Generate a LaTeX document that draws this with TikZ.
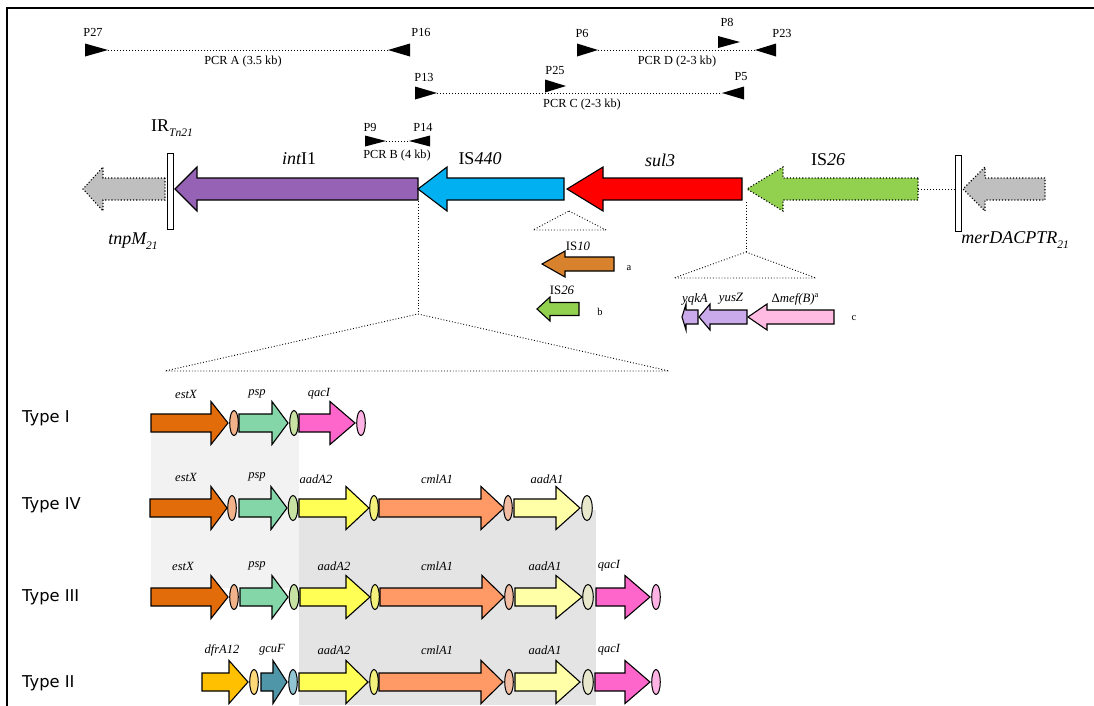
\documentclass[tikz,border=0pt]{standalone}
\usepackage{fontspec}
\setmainfont{Liberation Serif}
\newfontfamily\typefont{DejaVu Sans}
\definecolor{cGray}{HTML}{BFBFBF}
\definecolor{cInt}{HTML}{9562B5}
\definecolor{cIS440}{HTML}{00B0F0}
\definecolor{cSul}{HTML}{FF0000}
\definecolor{cIS26}{HTML}{92D050}
\definecolor{cIS10}{HTML}{D8822E}
\definecolor{cYus}{HTML}{CAAAEA}
\definecolor{cMef}{HTML}{FFBBE2}
\definecolor{cEst}{HTML}{E36C0A}
\definecolor{cEstO}{HTML}{F2B38A}
\definecolor{cPsp}{HTML}{84D6A8}
\definecolor{cPspO}{HTML}{C8E2A4}
\definecolor{cQac}{HTML}{FF66CC}
\definecolor{cQacO}{HTML}{FFB3E4}
\definecolor{cAadT}{HTML}{FFFF55}
\definecolor{cAadTO}{HTML}{F4F07C}
\definecolor{cCml}{HTML}{FF9966}
\definecolor{cCmlO}{HTML}{F2BCA2}
\definecolor{cAadO}{HTML}{FFFFA8}
\definecolor{cAadOO}{HTML}{E8E8CC}
\definecolor{cDfr}{HTML}{FFC000}
\definecolor{cDfrO}{HTML}{FFD878}
\definecolor{cGcu}{HTML}{4F97A8}
\definecolor{cGcuO}{HTML}{92C5D3}
\definecolor{shadeA}{HTML}{F2F2F2}
\definecolor{shadeB}{HTML}{E4E4E4}
% gene arrow: style, tail x, head-base x, tip x, y, body half, head half
\newcommand{\GeneArr}[7]{\draw[#1] (#2,#5-#6) -- (#3,#5-#6) -- (#3,#5-#7) -- (#4,#5) -- (#3,#5+#7) -- (#3,#5+#6) -- (#2,#5+#6) -- cycle;}
% primer triangle: base x, tip x, y, half height
\newcommand{\PrimTri}[4]{\fill (#1,#3-#4) -- (#2,#3) -- (#1,#3+#4) -- cycle;}
% cassette gene: colour, tail, head base, tip, y
\newcommand{\Cas}[5]{\GeneArr{gene,fill=#1}{#2}{#3}{#4}{#5}{9}{21.5}}
% oval: colour, x, y, half width
\newcommand{\Ov}[4]{\draw[oval,fill=#1] (#2,#3) ellipse ({#4} and 12.5);}
\newcommand{\SubT}[1]{\raisebox{-0.25em}{\fontsize{11.5}{12}\selectfont #1}}
\begin{document}
\begin{tikzpicture}[x=1pt,y=-1pt,
  gene/.style={draw=black,line width=1.1pt,line join=miter},
  dotgene/.style={draw=black,dotted,line width=1.1pt},
  pline/.style={dotted,line width=1pt},
  ins/.style={dotted,line width=0.9pt},
  oval/.style={draw=black,line width=1pt},
  small/.style={font=\fontsize{12.3}{14}\selectfont,inner sep=0pt},
  big/.style={font=\fontsize{18}{20}\selectfont,inner sep=0pt},
  mid/.style={font=\fontsize{12.8}{14}\selectfont,inner sep=0pt},
  tiny/.style={font=\fontsize{10.5}{12}\selectfont,inner sep=0pt},
  cas/.style={font=\fontsize{12.5}{14}\selectfont\itshape,inner sep=0pt},
  typel/.style={font=\typefont\fontsize{16.3}{18}\selectfont,anchor=west,inner sep=0pt}]
\useasboundingbox (0,0) rectangle (1094,705);
\fill[white] (0,0) rectangle (1094,705);
% shaded regions
\fill[shadeA] (151,430) rectangle (299,588);
\fill[shadeB] (299,510) rectangle (596,705);
% frame
\draw[line width=2.2pt] (7,706) -- (7,8) -- (1094,8);

% ---------- primers ----------
\PrimTri{85}{108}{50}{6.5}
\PrimTri{410}{388}{50}{6.5}
\coordinate (a1) at (108,50); \coordinate (a2) at (388,50);
\draw[pline] (a1) -- (a2);
\node[small] (lP27) at (93,32) {P27};
\node[small] (lP16) at (421,32) {P16};
\node[small] (lA) at (243,62) {PCR A (3.5 kb)};

\PrimTri{577}{598}{50}{6.5}
\PrimTri{718}{740}{42}{6}
\PrimTri{776}{755}{50}{6.5}
\coordinate (d1) at (598,50); \coordinate (d2) at (755,50);
\draw[pline] (d1) -- (d2);
\node[small] (lP6) at (582,33) {P6};
\node[small] (lP8) at (727,22) {P8};
\node[small] (lP23) at (782,33) {P23};
\node[small] (lD) at (677,62) {PCR D (2-3 kb)};

\PrimTri{415}{437}{93}{6.5}
\PrimTri{545}{566}{86}{6.5}
\PrimTri{744}{722}{93}{6.5}
\coordinate (c1) at (437,93); \coordinate (c2) at (722,93);
\draw[pline] (c1) -- (c2);
\node[small] (lP13) at (424,77) {P13};
\node[small] (lP25) at (555,70) {P25};
\node[small] (lP5) at (741,77) {P5};
\node[small] (lC) at (582,105) {PCR C (2-3 kb)};

\PrimTri{365}{386}{141}{5.5}
\PrimTri{430}{409}{141}{5.5}
\coordinate (b1) at (386,141); \coordinate (b2) at (409,141);
\draw[pline] (b1) -- (b2);
\node[small] (lP9) at (370,127) {P9};
\node[small] (lP14) at (423,127) {P14};
\node[small] (lB) at (397,156) {PCR B (4 kb)};

% ---------- main map ----------
\GeneArr{dotgene,fill=cGray}{165}{103}{83}{189}{11}{22}
\draw[gene,line width=1pt,fill=white] (167,153) rectangle (173,229);
\GeneArr{gene,fill=cInt}{418}{197}{175}{189}{11}{22}
\GeneArr{gene,fill=cIS440}{564}{447}{418}{189}{11}{22}
\GeneArr{gene,fill=cSul}{742}{603}{567}{189}{11}{22}
\GeneArr{dotgene,fill=cIS26}{918}{783}{747}{189}{11}{22}
\coordinate (g1) at (918,189); \coordinate (g2) at (956,189);
\draw[pline] (g1) -- (g2);
\draw[gene,line width=1pt,fill=white] (955,155) rectangle (961,231);
\GeneArr{dotgene,fill=cGray}{1045}{985}{963}{189}{11}{22}

\node[big] (lIR) at (172,128) {IR\SubT{\itshape Tn21}};
\node[big] (lint) at (299,159) {{\itshape int}I1};
\node[big] (lIS440) at (480,159) {IS{\itshape 440}};
\node[big] (lsul) at (660,160) {\itshape sul3};
\node[big] (lIS26) at (828,160) {IS{\itshape 26}};
\node[big] (ltnp) at (133,241) {{\itshape tnpM}\SubT{\itshape 21}};
\node[big] (lmer) at (1015,240) {{\itshape merDACPTR}\SubT{\itshape 21}};

% ---------- insertion a / b ----------
\draw[ins] (569,211) -- (606,230) -- (533,230) -- cycle;
\GeneArr{gene,fill=cIS10}{614}{565}{542}{264}{7}{13}
\node[mid] (lIS10) at (578,246) {IS{\itshape 10}};
\node[tiny] (la) at (629,268) {a};
\GeneArr{gene,fill=cIS26}{579}{550}{537}{309}{6.5}{12}
\node[mid] (lIS26b) at (562,290) {IS{\itshape 26}};
\node[tiny] (lb) at (600,312) {b};

% ---------- insertion c ----------
\coordinate (cv1) at (746,202); \coordinate (cv2) at (746,252);
\draw[ins] (cv1) -- (cv2);
\draw[ins] (cv2) -- (816,278) -- (674,278) -- cycle;
\GeneArr{gene,fill=cMef}{834}{767}{748}{317}{7}{13}
\GeneArr{gene,fill=cYus}{747}{710}{699}{317}{7}{13}
\GeneArr{gene,fill=cYus}{698}{686}{682}{317}{7}{13}
\node[mid,font=\fontsize{12.8}{14}\selectfont\itshape] (lyqk) at (695,299) {yqkA};
\node[mid,font=\fontsize{12.8}{14}\selectfont\itshape] (lyus) at (731,299) {yusZ};
\node[mid] (lmef) at (795,299) {Δ{\itshape mef(B)}\raisebox{0.35em}{\fontsize{8.5}{9}\selectfont a}};
\node[tiny] (lc) at (854,318) {c};

% ---------- integron expansion ----------
\coordinate (iv1) at (418,201); \coordinate (iv2) at (418,314);
\draw[ins] (iv1) -- (iv2);
\draw[ins] (iv2) -- (669,371) -- (165,371) -- cycle;

% ---------- Type I ----------
\node[typel] (tI) at (22,418) {Type I};
\Cas{cEst}{151}{211}{228}{423} \Ov{cEstO}{234}{423}{4.3}
\Cas{cPsp}{239}{272}{288}{423} \Ov{cPspO}{294}{423}{4.3}
\Cas{cQac}{299}{330}{355}{423} \Ov{cQacO}{361}{423}{4.3}
\node[cas] at (186,394) {estX};
\node[cas] at (257,394) {psp};
\node[cas] at (319,394) {qacI};

% ---------- Type IV ----------
\node[typel] (tIV) at (22,505) {Type IV};
\Cas{cEst}{150}{211}{227}{508} \Ov{cEstO}{232}{508}{4.3}
\Cas{cPsp}{239}{271}{287}{508} \Ov{cPspO}{293}{508}{4.8}
\Cas{cAadT}{299}{346}{369}{508} \Ov{cAadTO}{374}{508}{4.3}
\Cas{cCml}{379}{481}{504}{508} \Ov{cCmlO}{508}{508}{4.3}
\Cas{cAadO}{514}{556}{580}{508} \Ov{cAadOO}{587}{508}{5.3}
\node[cas] at (186,477) {estX};
\node[cas] at (257,477) {psp};
\node[cas] at (316,479) {aadA2};
\node[cas] at (437,479) {cmlA1};
\node[cas] at (547,479) {aadA1};

% ---------- Type III ----------
\node[typel] (tIII) at (22,597) {Type III};
\Cas{cEst}{151}{211}{228}{597} \Ov{cEstO}{234}{597}{4.3}
\Cas{cPsp}{240}{272}{288}{597} \Ov{cPspO}{294}{597}{4.8}
\Cas{cAadT}{300}{346}{370}{597} \Ov{cAadTO}{375}{597}{4.3}
\Cas{cCml}{380}{482}{504}{597} \Ov{cCmlO}{509}{597}{4.3}
\Cas{cAadO}{515}{556}{582}{597} \Ov{cAadOO}{588}{597}{5.3}
\Cas{cQac}{596}{625}{650}{597} \Ov{cQacO}{656}{597}{4.3}
\node[cas] at (183,566) {estX};
\node[cas] at (257,566) {psp};
\node[cas] at (334,566) {aadA2};
\node[cas] at (437,566) {cmlA1};
\node[cas] at (545,566) {aadA1};
\node[cas] at (609,566) {qacI};

% ---------- Type II ----------
\node[typel] (tII) at (22,683) {Type II};
\Cas{cDfr}{202}{229}{248}{682} \Ov{cDfrO}{254}{682}{4.3}
\Cas{cGcu}{261}{273}{287}{682} \Ov{cGcuO}{293}{682}{4.3}
\Cas{cAadT}{299}{346}{368}{682} \Ov{cAadTO}{374}{682}{4.3}
\Cas{cCml}{379}{481}{503}{682} \Ov{cCmlO}{509}{682}{4.3}
\Cas{cAadO}{515}{556}{580}{682} \Ov{cAadOO}{588}{682}{5.3}
\Cas{cQac}{595}{625}{650}{682} \Ov{cQacO}{656}{682}{4.3}
\node[cas] at (222,650) {dfrA12};
\node[cas] at (272,650) {gcuF};
\node[cas] at (334,650) {aadA2};
\node[cas] at (437,650) {cmlA1};
\node[cas] at (545,650) {aadA1};
\node[cas] at (609,650) {qacI};
\end{tikzpicture}
\end{document}
